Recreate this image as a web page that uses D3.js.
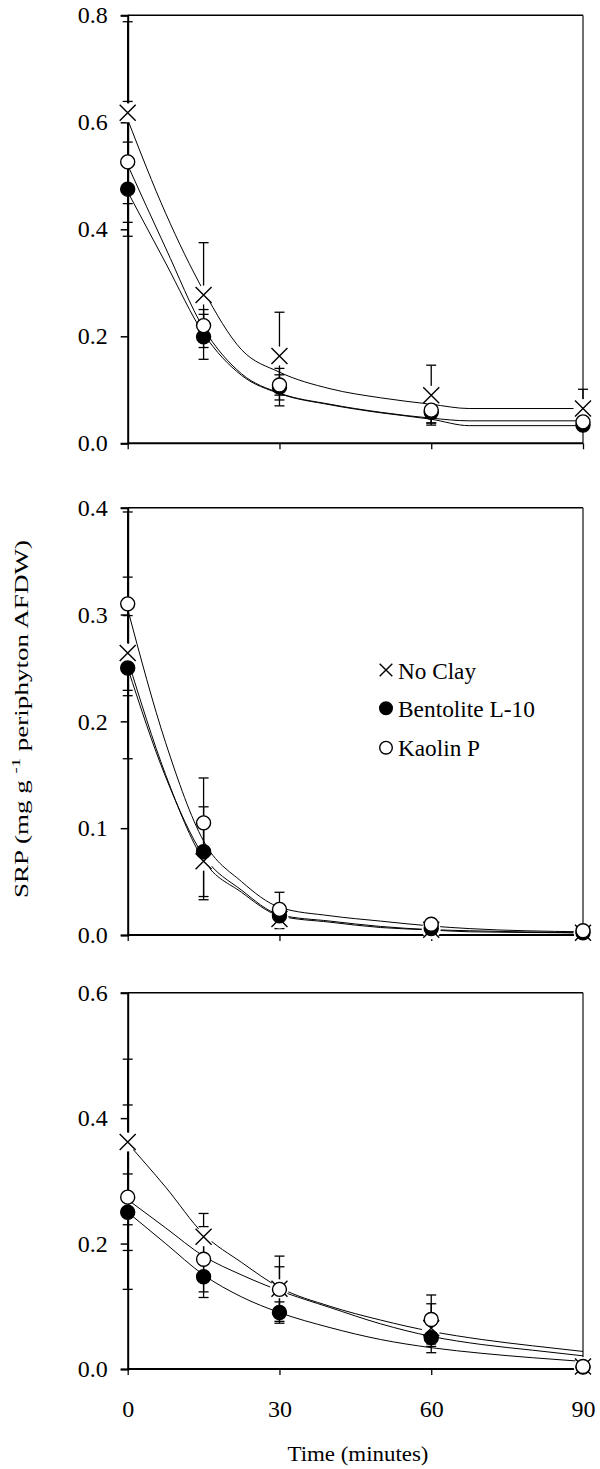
<!DOCTYPE html>
<html>
<head>
<meta charset="utf-8">
<script src="https://cdn.jsdelivr.net/npm/d3@7"></script>
<style>
  html, body { margin: 0; padding: 0; background: #fff; }
  svg { display: block; }
  text { font-family: "Liberation Serif", serif; fill: #000; }
</style>
</head>
<body>
<svg id="chart" width="600" height="1469"></svg>
<script>
// ---------------- DATA ----------------
const timePoints = [0, 15, 30, 60, 90];
const seriesNames = ["No Clay", "Bentolite L-10", "Kaolin P"];
const xTickValues = [0, 30, 60, 90];

// Panel 1 (top)
const p1NoClay        = [0.618, 0.277, 0.163, 0.090, 0.065];
const p1NoClayErr     = [0.170, 0.098, 0.082, 0.056, 0.036];
const p1Bentolite     = [0.475, 0.199, 0.105, 0.058, 0.034];
const p1BentoliteErr  = [0.088, 0.042, 0.035, 0.020, 0.008];
const p1Kaolin        = [0.526, 0.220, 0.109, 0.062, 0.040];
const p1KaolinErr     = [0.113, 0.030, 0.019, 0.024, 0.006];
const p1FitX          = [0, 7.5, 15, 22.5, 30, 40, 50, 60, 67.5, 90];
const p1FitNoClay     = [0.605, 0.430, 0.285, 0.175, 0.133, 0.102, 0.085, 0.073, 0.065, 0.065];
const p1FitBentolite  = [0.470, 0.337, 0.205, 0.127, 0.093, 0.072, 0.057, 0.045, 0.033, 0.033];
const p1FitKaolin     = [0.520, 0.365, 0.215, 0.130, 0.094, 0.073, 0.058, 0.047, 0.042, 0.042];
const p1YTicks        = [0.0, 0.2, 0.4, 0.6, 0.8];

// Panel 2 (middle)
const p2NoClay        = [0.264, 0.069, 0.015, 0.005, 0.002];
const p2NoClayErr     = [0.035, 0.036, 0.009, 0.003, 0.002];
const p2Bentolite     = [0.250, 0.078, 0.018, 0.006, 0.002];
const p2BentoliteErr  = [0.085, 0.042, 0.006, 0.003, 0.002];
const p2Kaolin        = [0.310, 0.105, 0.024, 0.010, 0.004];
const p2KaolinErr     = [0.086, 0.042, 0.016, 0.004, 0.003];
const p2FitX          = [0, 7.5, 15, 22.5, 30, 40, 50, 60, 67.5, 90];
const p2FitNoClay     = [0.258, 0.150, 0.070, 0.040, 0.018, 0.012, 0.007, 0.0047, 0.003, 0.002];
const p2FitBentolite  = [0.250, 0.148, 0.074, 0.042, 0.019, 0.013, 0.008, 0.005, 0.004, 0.002];
const p2FitKaolin     = [0.305, 0.180, 0.088, 0.050, 0.026, 0.018, 0.013, 0.0084, 0.006, 0.003];
const p2YTicks        = [0.0, 0.1, 0.2, 0.3, 0.4];

// Panel 3 (bottom)
const p3NoClay        = [0.362, 0.211, 0.128, 0.065, 0.004];
const p3NoClayErr     = [0.132, 0.037, 0.052, 0.039, 0.003];
const p3Bentolite     = [0.250, 0.147, 0.090, 0.050, 0.003];
const p3BentoliteErr  = [0.061, 0.033, 0.017, 0.014, 0.002];
const p3Kaolin        = [0.274, 0.175, 0.127, 0.079, 0.004];
const p3KaolinErr     = [0.147, 0.052, 0.036, 0.039, 0.003];
const p3FitX          = [0, 7.5, 15, 22.5, 30, 40, 50, 60, 70, 80, 90];
const p3FitNoClay     = [0.360, 0.290, 0.215, 0.170, 0.130, 0.100, 0.078, 0.060, 0.047, 0.037, 0.028];
const p3FitBentolite  = [0.250, 0.200, 0.150, 0.115, 0.090, 0.066, 0.047, 0.034, 0.025, 0.018, 0.012];
const p3FitKaolin     = [0.270, 0.225, 0.180, 0.150, 0.125, 0.098, 0.072, 0.052, 0.039, 0.030, 0.021];
const p3YTicks        = [0.0, 0.2, 0.4, 0.6];

// legend text widths as measured on the reference
const legendWidths = [78, 137, 82];

// ---------------- BUILD ----------------
const panels = [
  { top: 15.3, bottom: 443.3, yMax: 0.8, yTicks: p1YTicks, xLabels: false,
    vals: [p1NoClay, p1Bentolite, p1Kaolin], errs: [p1NoClayErr, p1BentoliteErr, p1KaolinErr],
    fitX: p1FitX, fits: [p1FitNoClay, p1FitBentolite, p1FitKaolin] },
  { top: 507.7, bottom: 935.0, yMax: 0.4, yTicks: p2YTicks, xLabels: false,
    vals: [p2NoClay, p2Bentolite, p2Kaolin], errs: [p2NoClayErr, p2BentoliteErr, p2KaolinErr],
    fitX: p2FitX, fits: [p2FitNoClay, p2FitBentolite, p2FitKaolin] },
  { top: 992.7, bottom: 1369.0, yMax: 0.6, yTicks: p3YTicks, xLabels: true,
    vals: [p3NoClay, p3Bentolite, p3Kaolin], errs: [p3NoClayErr, p3BentoliteErr, p3KaolinErr],
    fitX: p3FitX, fits: [p3FitNoClay, p3FitBentolite, p3FitKaolin] }
];

const svg = d3.select("#chart");
const xLeft = 127.7, xRight = 583;
const x = d3.scaleLinear().domain([0, 90]).range([xLeft, xRight]);

const R = 7;       // circle radius
const XS = 8;      // cross half-size
const CAP = 5;     // error cap half-width
const FONT = "Liberation Serif";

function drawMarker(g, kind, cx, cy, r, xs) {
  if (kind === 0) {
    g.append("circle").attr("cx", cx).attr("cy", cy).attr("r", xs + 1.5)
      .attr("fill", "#fff").attr("stroke", "none");
    g.append("path")
      .attr("d", `M${cx - xs},${cy - xs}L${cx + xs},${cy + xs}M${cx - xs},${cy + xs}L${cx + xs},${cy - xs}`)
      .attr("stroke", "#000").attr("stroke-width", 1.4).attr("fill", "none");
  } else {
    g.append("circle").attr("cx", cx).attr("cy", cy).attr("r", r)
      .attr("fill", kind === 1 ? "#000" : "#fff")
      .attr("stroke", "#000").attr("stroke-width", 1.4);
  }
}

panels.forEach(p => {
  const y = d3.scaleLinear().domain([0, p.yMax]).range([p.bottom, p.top]);
  const g = svg.append("g");

  // frame (top & right)
  g.append("line").attr("x1", xLeft).attr("x2", xRight).attr("y1", p.top).attr("y2", p.top)
    .attr("stroke", "#000").attr("stroke-width", 1.5);
  g.append("line").attr("x1", xRight).attr("x2", xRight).attr("y1", p.top).attr("y2", p.bottom)
    .attr("stroke", "#222").attr("stroke-width", 1.3);

  // left axis
  const yAxis = d3.axisLeft(y).tickValues(p.yTicks).tickSize(7).tickPadding(13)
    .tickFormat(d3.format(".1f"));
  const ga = g.append("g").attr("transform", `translate(${xLeft},0)`).call(yAxis)
    .attr("font-family", FONT);
  ga.select(".domain").attr("stroke-width", 2);
  ga.selectAll(".tick line").attr("stroke-width", 1.5);
  ga.selectAll("text").attr("font-size", 24).attr("font-family", FONT);

  // bottom axis
  const xAxis = d3.axisBottom(x).tickValues(xTickValues).tickSize(6).tickPadding(25)
    .tickFormat(p.xLabels ? d3.format("d") : () => "");
  const gb = g.append("g").attr("transform", `translate(0,${p.bottom})`).call(xAxis)
    .attr("font-family", FONT);
  gb.select(".domain").attr("stroke-width", 2).attr("d", `M${xLeft},0H${xRight}`);
  gb.selectAll(".tick line").attr("stroke-width", 1.3);
  gb.selectAll("text").attr("font-size", 24).attr("font-family", FONT);

  // error bars
  p.vals.forEach((vals, s) => {
    vals.forEach((v, i) => {
      const e = p.errs[s][i];
      const cx = x(timePoints[i]);
      const y1 = y(v + e), y2 = y(Math.max(0, v - e));
      g.append("line").attr("x1", cx).attr("x2", cx).attr("y1", y1).attr("y2", y2)
        .attr("stroke", "#000").attr("stroke-width", 1.3);
      [y1, y2].forEach(yy => g.append("line")
        .attr("x1", cx - CAP).attr("x2", cx + CAP).attr("y1", yy).attr("y2", yy)
        .attr("stroke", "#000").attr("stroke-width", 1.3));
    });
  });

  // fit curves
  const line = d3.line().x(d => x(d[0])).y(d => y(d[1])).curve(d3.curveMonotoneX);
  p.fits.forEach(f => {
    g.append("path").datum(p.fitX.map((t, i) => [t, f[i]]))
      .attr("d", line).attr("fill", "none").attr("stroke", "#000").attr("stroke-width", 1);
  });

  // markers: cross, filled, open
  [0, 1, 2].forEach(s => {
    p.vals[s].forEach((v, i) => drawMarker(g, s, x(timePoints[i]), y(v), R, XS));
  });
});

// legend (in middle panel)
const legendY = [670, 708.3, 747.7];
seriesNames.forEach((name, s) => {
  drawMarker(svg, s, 386, legendY[s], 6.3, 6.3);
  svg.append("text").attr("x", 398).attr("y", legendY[s] + 8.5)
    .attr("font-family", FONT).attr("font-size", 24)
    .attr("textLength", legendWidths[s]).attr("lengthAdjust", "spacingAndGlyphs")
    .text(name);
});

// axis titles
const yt = svg.append("text")
  .attr("transform", "translate(28,719) rotate(-90)")
  .attr("text-anchor", "middle")
  .attr("font-family", FONT)
  .attr("font-size", 19)
  .attr("textLength", 358)
  .attr("lengthAdjust", "spacingAndGlyphs");
yt.append("tspan").text("SRP (mg  g ");
yt.append("tspan").attr("font-size", 13).attr("dy", -8).text("-1");
yt.append("tspan").attr("dy", 8).text(" periphyton AFDW)");

svg.append("text").attr("x", 358).attr("y", 1461).attr("text-anchor", "middle")
  .attr("font-family", FONT).attr("font-size", 22)
  .attr("textLength", 141).attr("lengthAdjust", "spacingAndGlyphs")
  .text("Time (minutes)");
</script>
</body>
</html>
